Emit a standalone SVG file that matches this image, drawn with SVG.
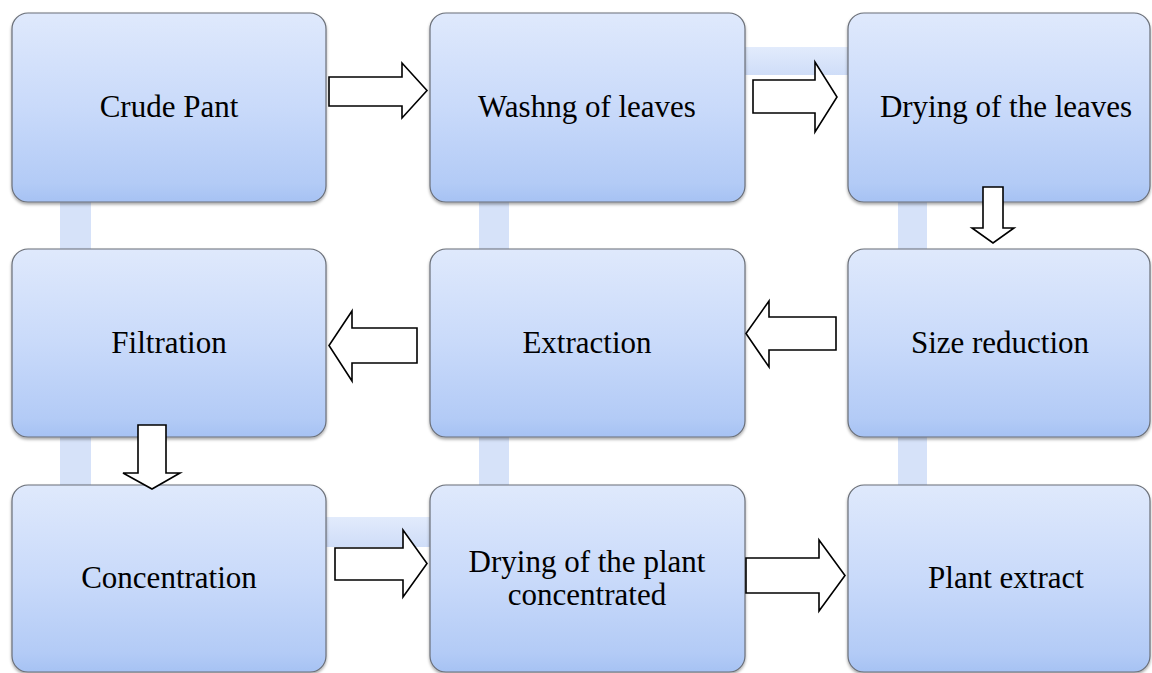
<svg xmlns="http://www.w3.org/2000/svg" width="1152" height="673" viewBox="0 0 1152 673">
<defs>
<linearGradient id="boxg" x1="0" y1="0" x2="0" y2="1">
<stop offset="0" stop-color="#dfe9fc"/>
<stop offset="0.5" stop-color="#c9dafa"/>
<stop offset="0.9" stop-color="#b3cbf6"/>
<stop offset="1" stop-color="#a6c2f3"/>
</linearGradient>
<linearGradient id="barh" x1="0" y1="0" x2="0" y2="1">
<stop offset="0" stop-color="#e2ebfc"/>
<stop offset="1" stop-color="#cfddf8"/>
</linearGradient>
<filter id="sh" x="-5%" y="-5%" width="110%" height="115%">
<feDropShadow dx="0" dy="2" stdDeviation="1.5" flood-color="#000" flood-opacity="0.35"/>
</filter>
<style>
.box{fill:url(#boxg);stroke:#6a6f78;stroke-width:1.2;filter:url(#sh)}
.bar{fill:#d6e2f9}
.barh{fill:url(#barh)}
.arr{fill:#fff;stroke:#000;stroke-width:1.6;stroke-linejoin:miter}
.t{font-size:31px;fill:#000;text-anchor:middle}
</style>
</defs>
<rect width="1152" height="673" fill="#fff"/>
<g id="connectors">
<rect class="bar" x="60" y="200" width="31" height="52"/>
<rect class="bar" x="60" y="435" width="31" height="52"/>
<rect class="bar" x="479" y="200" width="30" height="52"/>
<rect class="bar" x="479" y="435" width="30" height="52"/>
<rect class="bar" x="898" y="200" width="29" height="52"/>
<rect class="bar" x="898" y="435" width="29" height="52"/>
<rect class="barh" x="743" y="47" width="108" height="28"/>
<rect class="barh" x="324" y="517" width="108" height="30"/>
</g>
<g font-family="'Liberation Serif', 'Times New Roman', 'DejaVu Serif', serif">
<g id="n1"><rect class="box" x="12" y="13" width="314" height="189" rx="16"/><text class="t" x="169" y="117">Crude Pant</text></g>
<g id="n2"><rect class="box" x="430" y="13" width="315" height="189" rx="16"/><text class="t" x="587" y="117">Washng of leaves</text></g>
<g id="n3"><rect class="box" x="848" y="13" width="302" height="189" rx="16"/><text class="t" x="1006" y="117">Drying of the leaves</text></g>
<g id="n4"><rect class="box" x="12" y="249" width="314" height="188" rx="16"/><text class="t" x="169" y="353">Filtration</text></g>
<g id="n5"><rect class="box" x="430" y="249" width="315" height="188" rx="16"/><text class="t" x="587" y="353">Extraction</text></g>
<g id="n6"><rect class="box" x="848" y="249" width="302" height="188" rx="16"/><text class="t" x="1000" y="353">Size reduction</text></g>
<g id="n7"><rect class="box" x="12" y="485" width="314" height="187" rx="16"/><text class="t" x="169" y="588">Concentration</text></g>
<g id="n8"><rect class="box" x="430" y="485" width="315" height="187" rx="16"/><text class="t" x="587" y="572">Drying of the plant</text><text class="t" x="587" y="605">concentrated</text></g>
<g id="n9"><rect class="box" x="848" y="485" width="302" height="187" rx="16"/><text class="t" x="1006" y="588">Plant extract</text></g>
</g>
<g id="arrows">
<polygon class="arr" points="329,77 402,77 402,63 427,90.5 402,118 402,106 329,106"/>
<polygon class="arr" points="753,80 815,80 815,62 837,97 815,132 815,113 753,113"/>
<polygon class="arr" points="983,187 1003,187 1003,228 1014,228 993,243 972,228 983,228"/>
<polygon class="arr" points="836,317 769,317 769,301 746,333.5 769,367 769,350 836,350"/>
<polygon class="arr" points="417,328 352,328 352,311 329,345.5 352,381 352,363 417,363"/>
<polygon class="arr" points="138,425 166,425 166,473 180,473 152,489 123,473 138,473"/>
<polygon class="arr" points="335,548 403,548 403,530 427,563.5 403,597 403,580 335,580"/>
<polygon class="arr" points="746,558 819,558 819,540 845,575.5 819,611 819,593 746,593"/>
</g>
</svg>
